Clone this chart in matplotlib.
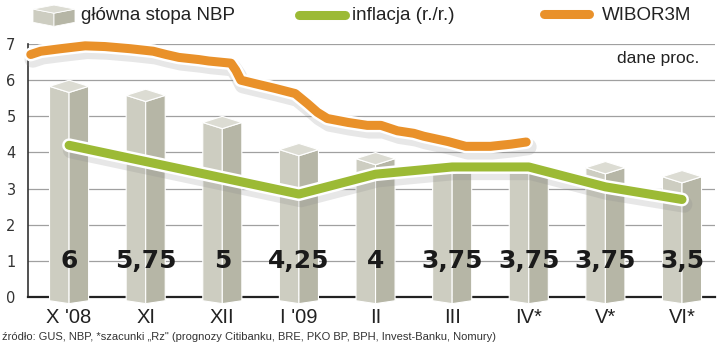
import numpy as np
import pandas as pd
import matplotlib
matplotlib.use("Agg")
import matplotlib.pyplot as plt
import matplotlib.patheffects as pe
from matplotlib.patches import Polygon

# Data
months = ["X '08", "XI", "XII", "I '09", "II", "III", "IV*", "V*", "VI*"]
stopa = [6.0, 5.75, 5.0, 4.25, 4.0, 3.75, 3.75, 3.75, 3.5]
stopa_labels = ["6", "5,75", "5", "4,25", "4", "3,75", "3,75", "3,75", "3,5"]
inflacja = [4.2, 3.75, 3.3, 2.85, 3.4, 3.6, 3.6, 3.05, 2.7]

wibor_dates = ["2008-10-01", "2008-10-05", "2008-10-13", "2008-10-23", "2008-10-31",
               "2008-11-10", "2008-11-19", "2008-11-24", "2008-11-29", "2008-12-07",
               "2008-12-11", "2008-12-20", "2008-12-22", "2008-12-24", "2008-12-30",
               "2009-01-07", "2009-01-15", "2009-01-20", "2009-01-24", "2009-01-28",
               "2009-02-05", "2009-02-12", "2009-02-17", "2009-02-23", "2009-03-01",
               "2009-03-05", "2009-03-15", "2009-03-22", "2009-04-01", "2009-04-09",
               "2009-04-15"]
wibor = [6.71, 6.80, 6.87, 6.95, 6.93,
         6.87, 6.80, 6.71, 6.63, 6.57,
         6.53, 6.47, 6.27, 6.00, 5.90,
         5.77, 5.63, 5.35, 5.11, 4.94,
         4.83, 4.75, 4.75, 4.60, 4.53,
         4.45, 4.30, 4.17, 4.17, 4.23,
         4.29]

# dates -> month position (category centre = middle of the month)
d = pd.to_datetime(wibor_dates)
wibor_x = ((d.year - 2008) * 12 + d.month - 10 - 0.5
           + (d.day - 1) / d.days_in_month).values

GRAY_TOP = "#dcdcd3"
GRAY_L = "#cdcdc1"
GRAY_R = "#b6b6a6"
GREEN = "#9cba35"
ORANGE = "#e9912a"

fig = plt.figure(figsize=(7.2, 3.55), dpi=100)
ax = fig.add_axes([0.039, 0.163, 0.954, 0.713])
ax.set_xlim(-0.535, 8.43)
ax.set_ylim(0, 7)

for y in range(1, 8):
    ax.axhline(y, color="#a0a0a0", lw=0.9, zorder=0)

# 3d-ish pillars
w = 0.255
dlt = 0.17
for i, v in enumerate(stopa):
    xl, xc, xr = i - w, i, i + w
    left = Polygon([(xl, -0.1), (xl, v - dlt), (xc, v - 2 * dlt), (xc, -0.18)],
                   closed=True, fc=GRAY_L, ec="white", lw=0.8, zorder=3, clip_on=False)
    right = Polygon([(xc, -0.18), (xc, v - 2 * dlt), (xr, v - dlt), (xr, -0.1)],
                    closed=True, fc=GRAY_R, ec="white", lw=0.8, zorder=3, clip_on=False)
    top = Polygon([(xl, v - dlt), (xc, v), (xr, v - dlt), (xc, v - 2 * dlt)],
                  closed=True, fc=GRAY_TOP, ec="white", lw=0.8, zorder=3, clip_on=False)
    for p in (left, right, top):
        ax.add_patch(p)
    ax.text(i, 1.0, stopa_labels[i], ha="center", va="center", fontsize=18,
            fontweight="bold", color="#1a1a1a", zorder=6)

shadow = [pe.SimpleLineShadow(offset=(1.5, -3.5), shadow_color="#888888", alpha=0.2, linewidth=12),
          pe.Stroke(linewidth=10, foreground="white"), pe.Normal()]

ax.plot(range(len(months)), inflacja, color=GREEN, lw=6.5, solid_capstyle="round",
        solid_joinstyle="round", zorder=4, path_effects=shadow, clip_on=False)
ax.plot(wibor_x, wibor, color=ORANGE, lw=6.5, solid_capstyle="round",
        solid_joinstyle="round", zorder=5, path_effects=shadow, clip_on=False)

ax.spines["top"].set_visible(False)
ax.spines["right"].set_visible(False)
ax.spines["left"].set_color("#333333")
ax.spines["left"].set_linewidth(1.2)
ax.spines["left"].set_zorder(2)
ax.spines["bottom"].set_color("#222222")
ax.spines["bottom"].set_linewidth(1.6)
ax.spines["bottom"].set_zorder(2)

ax.set_yticks(range(0, 8))
ax.set_yticklabels([str(i) for i in range(0, 8)], fontsize=10.5, color="#333333")
ax.tick_params(axis="y", length=0, pad=9)
ax.set_xticks(range(len(months)))
ax.set_xticklabels(months, fontsize=14.5, color="#222222", family="Liberation Sans")
ax.tick_params(axis="x", length=0, pad=8)

# legend
leg_ax = fig.add_axes([0, 0.88, 1, 0.12])
leg_ax.set_xlim(0, 720)
leg_ax.set_ylim(42, 0)
leg_ax.axis("off")
# cube icon
leg_ax.add_patch(Polygon([(33, 9), (33, 22), (54, 26), (54, 13)], closed=True, fc=GRAY_L, ec="white", lw=0.6))
leg_ax.add_patch(Polygon([(54, 13), (54, 26), (75, 22), (75, 9)], closed=True, fc=GRAY_R, ec="white", lw=0.6))
leg_ax.add_patch(Polygon([(33, 9), (54, 5), (75, 9), (54, 13)], closed=True, fc=GRAY_TOP, ec="white", lw=0.6))
leg_ax.text(81, 15, "główna stopa NBP", fontsize=13.5, va="center", ha="left", color="#222222",
            family="Liberation Sans")
leg_ax.plot([299, 345], [15, 15], color=GREEN, lw=6.5, solid_capstyle="round")
leg_ax.text(352, 15, "inflacja (r./r.)", fontsize=13.5, va="center", ha="left", color="#222222",
            family="Liberation Sans")
leg_ax.plot([544, 589], [14, 14], color=ORANGE, lw=6.5, solid_capstyle="round")
leg_ax.text(602, 15, "WIBOR3M", fontsize=13.5, va="center", ha="left", color="#222222",
            family="Liberation Sans")

fig.text(0.972, 0.836, "dane proc.", fontsize=12.5, ha="right", va="center", color="#222222",
         family="Liberation Sans")
fig.text(0.003, 0.05, "źródło: GUS, NBP, *szacunki „Rz\" (prognozy Citibanku, BRE, PKO BP, BPH, Invest-Banku, Nomury)",
         fontsize=8, ha="left", va="center", color="#333333", family="Liberation Sans")

fig.savefig("out.png", dpi=100)
